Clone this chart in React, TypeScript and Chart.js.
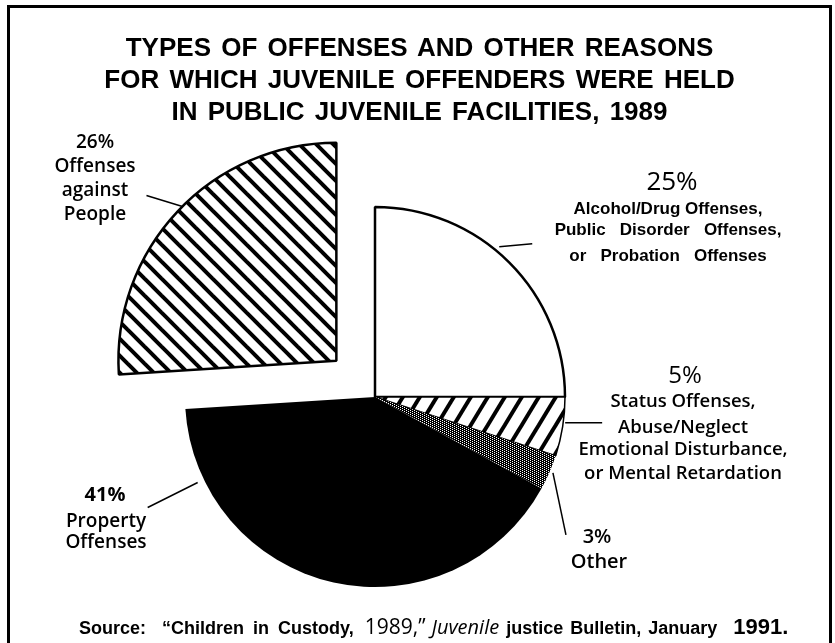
import React, { useEffect, useRef } from "react";
import { Chart, registerables } from "chart.js";

Chart.register(...registerables);

// ---------- data ----------
const titleLines = [
  "TYPES OF OFFENSES AND OTHER REASONS",
  "FOR WHICH JUVENILE OFFENDERS WERE HELD",
  "IN PUBLIC JUVENILE FACILITIES, 1989",
];

const categories = [
  "Alcohol/Drug Offenses, Public Disorder Offenses, or Probation Offenses",
  "Status Offenses, Abuse/Neglect Emotional Disturbance, or Mental Retardation",
  "Other",
  "Property Offenses",
  "Offenses against People",
];

const percentages = [25, 5, 3, 41, 26];

const labelLines = [
  ["Alcohol/Drug Offenses,", "Public   Disorder   Offenses,", "or   Probation   Offenses"],
  ["Status Offenses,", "Abuse/Neglect", "Emotional Disturbance,", "or Mental Retardation"],
  ["Other"],
  ["Property", "Offenses"],
  ["Offenses", "against", "People"],
];

const explodedSlice = [false, false, false, false, true];

const sourceWords = [
  "Source:",
  "\u201CChildren",
  "in",
  "Custody,",
  "1989,\u201D",
  "Juvenile",
  "justice",
  "Bulletin,",
  "January",
  "1991.",
];

// ---------- layout / style (not data) ----------
const OPTIMA = '"Open Sans", "Lato", sans-serif';
const ARIAL = '"Liberation Sans", Arial, sans-serif';

const labelLayout = [
  {
    dx: 297, pctDy: -214, pctFont: `400 26px ${OPTIMA}`,
    lineDx: 293, lineDys: [-188, -167, -141], lineFont: `700 17px ${ARIAL}`,
    leader: { t: 0.44, r: 1.026, dx: 33, dy: -3 },
  },
  {
    dx: 310, pctDy: -21, pctFont: `400 24px ${OPTIMA}`,
    lineDx: 308, lineDys: [5, 31, 53, 77], lineFont: `600 18.5px ${OPTIMA}`,
    leader: { t: 0.43, r: 1.01, dx: 37, dy: 0 },
  },
  {
    dx: 222, pctDy: 140, pctFont: `600 20px ${OPTIMA}`,
    lineDx: 224, lineDys: [165], lineFont: `600 20px ${OPTIMA}`,
    leader: { t: 0.47, r: 1.018, dx: 13, dy: 62 },
  },
  {
    dx: -270, pctDy: 98, pctFont: `700 20px ${OPTIMA}`,
    lineDx: -269, lineDys: [125, 146], lineFont: `600 19px ${OPTIMA}`,
    leader: { t: 0.85, r: 1.036, dx: -50, dy: 25 },
  },
  {
    dx: -280, pctDy: -254, pctFont: `600 19px ${OPTIMA}`,
    lineDx: -280, lineDys: [-230, -206, -182], lineFont: `600 19px ${OPTIMA}`,
    leader: { t: 0.52, r: 1.0, dx: -36, dy: -11 },
  },
];

const narrowBold: React.CSSProperties = { fontFamily: ARIAL, fontWeight: 700, fontSize: 18 };
const sourceStyles: Array<{ style: React.CSSProperties; gap: number }> = [
  { style: narrowBold, gap: 16 },
  { style: narrowBold, gap: 9 },
  { style: narrowBold, gap: 9 },
  { style: narrowBold, gap: 11 },
  { style: { fontFamily: OPTIMA, fontWeight: 400, fontSize: 21 }, gap: 6 },
  { style: { fontFamily: OPTIMA, fontWeight: 400, fontSize: 20, fontStyle: "italic" }, gap: 7 },
  narrowBold && { style: narrowBold, gap: 7 },
  { style: narrowBold, gap: 7 },
  { style: narrowBold, gap: 16 },
  { style: { fontFamily: ARIAL, fontWeight: 700, fontSize: 22 }, gap: 0 },
];

const EXPLODE_DIST = 53;
const EXPLODE_SCALE = 1.147;
const PIE_RADIUS = 190;

function hatchPattern(w: number, h: number, lw: number, rising: boolean) {
  const c = document.createElement("canvas");
  c.width = w;
  c.height = h;
  const g = c.getContext("2d")!;
  g.fillStyle = "#fff";
  g.fillRect(0, 0, w, h);
  g.strokeStyle = "#000";
  g.lineWidth = lw;
  for (let k = -2; k <= 2; k++) {
    g.beginPath();
    if (rising) {
      g.moveTo(k * w - w, 2 * h);
      g.lineTo(k * w + 2 * w, -h);
    } else {
      g.moveTo(k * w - w, -h);
      g.lineTo(k * w + 2 * w, 2 * h);
    }
    g.stroke();
  }
  return g.createPattern(c, "repeat")!;
}

function dotPattern() {
  const c = document.createElement("canvas");
  c.width = 4;
  c.height = 4;
  const g = c.getContext("2d")!;
  g.fillStyle = "#000";
  g.fillRect(0, 0, 4, 4);
  g.fillStyle = "#fff";
  [[0, 0], [2, 1], [0, 2], [2, 3]].forEach(([x, y]) => g.fillRect(x, y, 1, 1));
  return g.createPattern(c, "repeat")!;
}

const explodePlugin = {
  id: "explodeSlice",
  afterDatasetsUpdate(chart: any) {
    const meta = chart.getDatasetMeta(0);
    meta.data.forEach((arc: any, i: number) => {
      if (!explodedSlice[i]) return;
      const mid = (arc.startAngle + arc.endAngle) / 2;
      arc.x = arc.x + Math.cos(mid) * EXPLODE_DIST;
      arc.y = arc.y + Math.sin(mid) * EXPLODE_DIST;
      arc.outerRadius = arc.outerRadius * EXPLODE_SCALE;
    });
  },
};

const labelPlugin = {
  id: "sliceLabels",
  afterDatasetsDraw(chart: any) {
    const ctx: CanvasRenderingContext2D = chart.ctx;
    const meta = chart.getDatasetMeta(0);
    const base = meta.data.find((_: any, i: number) => !explodedSlice[i]);
    const cx = base.x;
    const cy = base.y;
    ctx.save();
    ctx.fillStyle = "#000";
    ctx.strokeStyle = "#000";
    ctx.textAlign = "center";
    ctx.textBaseline = "middle";
    percentages.forEach((v, i) => {
      const arc = meta.data[i];
      const lay = labelLayout[i];
      const ang = arc.startAngle + (arc.endAngle - arc.startAngle) * lay.leader.t;
      const r = arc.outerRadius * lay.leader.r;
      const x1 = arc.x + Math.cos(ang) * r;
      const y1 = arc.y + Math.sin(ang) * r;
      ctx.beginPath();
      ctx.lineWidth = 1.5;
      ctx.moveTo(x1, y1);
      ctx.lineTo(x1 + lay.leader.dx, y1 + lay.leader.dy);
      ctx.stroke();
      ctx.font = lay.pctFont;
      ctx.fillText(`${v}%`, cx + lay.dx, cy + lay.pctDy);
      ctx.font = lay.lineFont;
      labelLines[i].forEach((txt, j) => {
        ctx.fillText(txt, cx + lay.lineDx, cy + lay.lineDys[j]);
      });
    });
    ctx.restore();
  },
};

export default function App() {
  const ref = useRef<HTMLCanvasElement>(null);

  useEffect(() => {
    const canvas = ref.current!;
    const W = canvas.width;
    const H = canvas.height;
    const cx = 365;
    const cy = 389;
    const half = 200;
    const chart = new Chart(canvas, {
      type: "pie",
      data: {
        labels: categories,
        datasets: [
          {
            data: percentages,
            backgroundColor: [
              "#ffffff",
              hatchPattern(17, 28, 4, true),
              dotPattern(),
              "#000000",
              hatchPattern(17, 17, 4, false),
            ] as any,
            borderColor: "#000",
            borderWidth: [2.5, 1.5, 0, 0, 2.5],
          },
        ],
      },
      options: {
        animation: false,
        responsive: false,
        maintainAspectRatio: false,
        radius: PIE_RADIUS,
        layout: {
          padding: {
            left: cx - half,
            right: W - (cx + half),
            top: cy - half,
            bottom: H - (cy + half),
          },
        },
        plugins: {
          legend: { display: false },
          tooltip: { enabled: false },
          title: { display: false },
        },
        events: [],
      },
      plugins: [explodePlugin, labelPlugin],
    });
    return () => chart.destroy();
  }, []);

  return (
    <div
      style={{
        position: "absolute",
        left: 7,
        top: 5,
        width: 819,
        height: 635,
        borderTop: "3px solid #000",
        borderLeft: "3px solid #000",
        borderRight: "3px solid #000",
        overflow: "hidden",
        background: "#fff",
      }}
    >
      <canvas ref={ref} width={819} height={635} style={{ position: "absolute", left: 0, top: 0, display: "block" }} />
      <div
        style={{
          position: "absolute",
          left: 0,
          top: 23,
          width: 819,
          textAlign: "center",
          fontFamily: ARIAL,
          fontWeight: 700,
          fontSize: 26,
          lineHeight: "32px",
          color: "#000",
        }}
      >
        {titleLines.map((t) => (
          <div key={t} style={{ wordSpacing: 3 }}>{t}</div>
        ))}
      </div>
      <div
        style={{
          position: "absolute",
          left: 69,
          top: 605,
          whiteSpace: "nowrap",
          lineHeight: "26px",
          color: "#000",
        }}
      >
        {sourceWords.map((w, i) => (
          <span key={i} style={{ ...sourceStyles[i].style, marginRight: sourceStyles[i].gap }}>{w}</span>
        ))}
      </div>
    </div>
  );
}
